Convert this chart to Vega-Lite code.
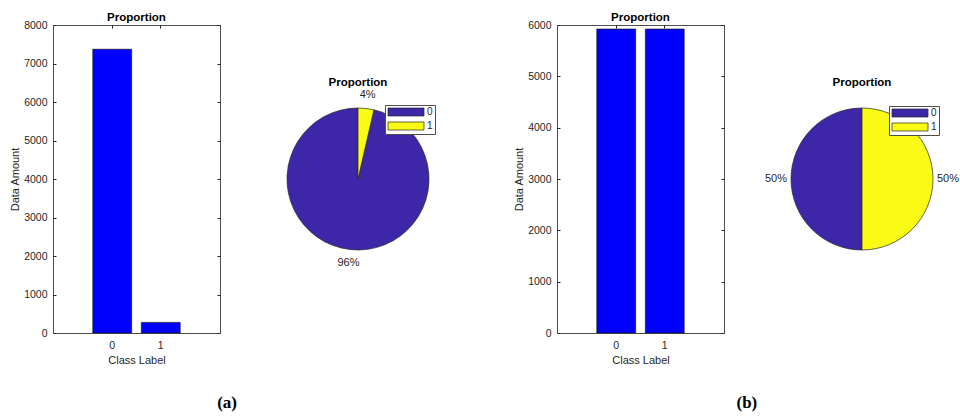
{
  "$schema": "https://vega.github.io/schema/vega-lite/v6.json",
  "background": "white",
  "padding": {"left": 8, "top": 11, "right": 0, "bottom": 0},
  "spacing": 27,
  "datasets": {
    "raw": [
      {"label": "0", "count": 7370, "pct": "96%"},
      {"label": "1", "count": 275, "pct": "4%"}
    ],
    "balanced": [
      {"label": "0", "count": 5920, "pct": "50%"},
      {"label": "1", "count": 5920, "pct": "50%"}
    ],
    "captions": [
      {"caption": "(a)"},
      {"caption": "(b)"}
    ]
  },
  "config": {
    "font": "Liberation Sans",
    "view": {"stroke": null},
    "axis": {
      "labelFont": "Liberation Sans",
      "labelFontSize": 10.5,
      "labelColor": "#262626",
      "titleFont": "Liberation Sans",
      "titleFontSize": 11,
      "titleFontWeight": "normal",
      "titleColor": "#262626",
      "domain": false,
      "grid": false,
      "tickColor": "#262626",
      "tickSize": -3,
      "format": "d"
    },
    "legend": {
      "title": null,
      "orient": "none",
      "symbolType": "M-4.5,-1H4.5V1H-4.5Z",
      "symbolSize": 64,
      "symbolOffset": 14,
      "symbolStrokeColor": "#262626",
      "symbolStrokeWidth": 0.7,
      "symbolOpacity": 1,
      "labelFont": "Liberation Sans",
      "labelFontSize": 10,
      "labelColor": "#262626",
      "labelOffset": 16,
      "rowPadding": 2,
      "padding": 2,
      "strokeColor": "#4d4d4d",
      "fillColor": "white"
    },
    "title": {"font": "Liberation Sans", "fontSize": 11.5, "fontWeight": "bold", "color": "#000000", "frame": "group"}
  },
  "resolve": {
    "scale": {"color": "independent", "x": "independent", "y": "independent"},
    "legend": {"color": "independent"}
  },
  "vconcat": [
    {
      "bounds": "flush",
      "spacing": 38,
      "resolve": {
        "scale": {"color": "independent", "x": "independent", "y": "independent"},
        "legend": {"color": "independent"}
      },
      "hconcat": [
        {
          "width": 167,
          "height": 308,
          "data": {"name": "raw"},
          "title": {"text": "Proportion", "offset": -3},
          "view": {"stroke": "#4d4d4d", "strokeWidth": 1},
          "layer": [
            {
              "mark": {"type": "bar", "color": "#0000ff", "stroke": "#1a1a1a", "strokeWidth": 0.7},
              "encoding": {
                "x": {"field": "label", "type": "ordinal", "scale": {"paddingInner": 0.2, "paddingOuter": 0.82},
                      "axis": {"orient": "bottom", "title": "Class Label", "labelAngle": 0, "labelPadding": 10, "titlePadding": 4}},
                "y": {"field": "count", "type": "quantitative", "scale": {"domain": [0, 8000], "nice": false},
                      "axis": {"orient": "left", "title": "Data Amount", "values": [0, 1000, 2000, 3000, 4000, 5000, 6000, 7000, 8000],
                               "labelPadding": 9, "minExtent": 28, "maxExtent": 28, "titlePadding": 5}}
              }
            },
            {
              "mark": {"type": "bar", "opacity": 0},
              "encoding": {
                "x": {"field": "label", "type": "ordinal", "axis": {"orient": "top", "labels": false, "title": null}},
                "y": {"field": "count", "type": "quantitative",
                      "axis": {"orient": "right", "labels": false, "title": null, "values": [0, 1000, 2000, 3000, 4000, 5000, 6000, 7000, 8000]}}
              }
            }
          ],
          "resolve": {"axis": {"x": "independent", "y": "independent"}}
        },
        {
          "width": 200,
          "height": 308,
          "data": {"name": "raw"},
          "title": {"text": "Proportion", "offset": -63},
          "encoding": {
            "theta": {"field": "count", "type": "quantitative", "stack": true},
            "order": {"field": "label", "type": "ordinal", "sort": "descending"}
          },
          "layer": [
            {
              "mark": {"type": "arc", "outerRadius": 71, "stroke": "#262626", "strokeWidth": 0.7},
              "encoding": {
                "color": {"field": "label", "type": "nominal",
                          "scale": {"domain": ["0", "1"], "range": ["#3e26a8", "#f9fb15"]},
                          "legend": {"legendX": 127, "legendY": 80}}
              }
            },
            {
              "mark": {"type": "text", "radius": 85, "fontSize": 11, "color": "#262626", "baseline": "middle", "align": "center"},
              "encoding": {"text": {"field": "pct"}}
            }
          ]
        },
        {
          "width": 23,
          "height": 308,
          "data": {"values": []},
          "mark": "text"
        },
        {
          "width": 167,
          "height": 308,
          "data": {"name": "balanced"},
          "title": {"text": "Proportion", "offset": -3},
          "view": {"stroke": "#4d4d4d", "strokeWidth": 1},
          "layer": [
            {
              "mark": {"type": "bar", "color": "#0000ff", "stroke": "#1a1a1a", "strokeWidth": 0.7},
              "encoding": {
                "x": {"field": "label", "type": "ordinal", "scale": {"paddingInner": 0.2, "paddingOuter": 0.82},
                      "axis": {"orient": "bottom", "title": "Class Label", "labelAngle": 0, "labelPadding": 10, "titlePadding": 4}},
                "y": {"field": "count", "type": "quantitative", "scale": {"domain": [0, 6000], "nice": false},
                      "axis": {"orient": "left", "title": "Data Amount", "values": [0, 1000, 2000, 3000, 4000, 5000, 6000],
                               "labelPadding": 9, "minExtent": 28, "maxExtent": 28, "titlePadding": 5}}
              }
            },
            {
              "mark": {"type": "bar", "opacity": 0},
              "encoding": {
                "x": {"field": "label", "type": "ordinal", "axis": {"orient": "top", "labels": false, "title": null}},
                "y": {"field": "count", "type": "quantitative",
                      "axis": {"orient": "right", "labels": false, "title": null, "values": [0, 1000, 2000, 3000, 4000, 5000, 6000]}}
              }
            }
          ],
          "resolve": {"axis": {"x": "independent", "y": "independent"}}
        },
        {
          "width": 200,
          "height": 308,
          "data": {"name": "balanced"},
          "title": {"text": "Proportion", "offset": -63},
          "encoding": {
            "theta": {"field": "count", "type": "quantitative", "stack": true},
            "order": {"field": "label", "type": "ordinal", "sort": "descending"}
          },
          "layer": [
            {
              "mark": {"type": "arc", "outerRadius": 71, "stroke": "#262626", "strokeWidth": 0.7},
              "encoding": {
                "color": {"field": "label", "type": "nominal",
                          "scale": {"domain": ["0", "1"], "range": ["#3e26a8", "#f9fb15"]},
                          "legend": {"legendX": 127, "legendY": 81}}
              }
            },
            {
              "mark": {"type": "text", "radius": 86, "fontSize": 11, "color": "#262626", "baseline": "middle", "align": "center"},
              "encoding": {"text": {"field": "pct"}}
            }
          ]
        }
      ]
    },
    {
      "width": 868,
      "height": 20,
      "data": {"name": "captions"},
      "mark": {"type": "text", "font": "Liberation Serif", "fontSize": 17, "fontWeight": "bold", "color": "#000000", "baseline": "middle", "align": "center"},
      "encoding": {
        "x": {"field": "caption", "type": "nominal", "scale": {"type": "point", "padding": 0.335}, "axis": null},
        "text": {"field": "caption"}
      }
    }
  ]
}
